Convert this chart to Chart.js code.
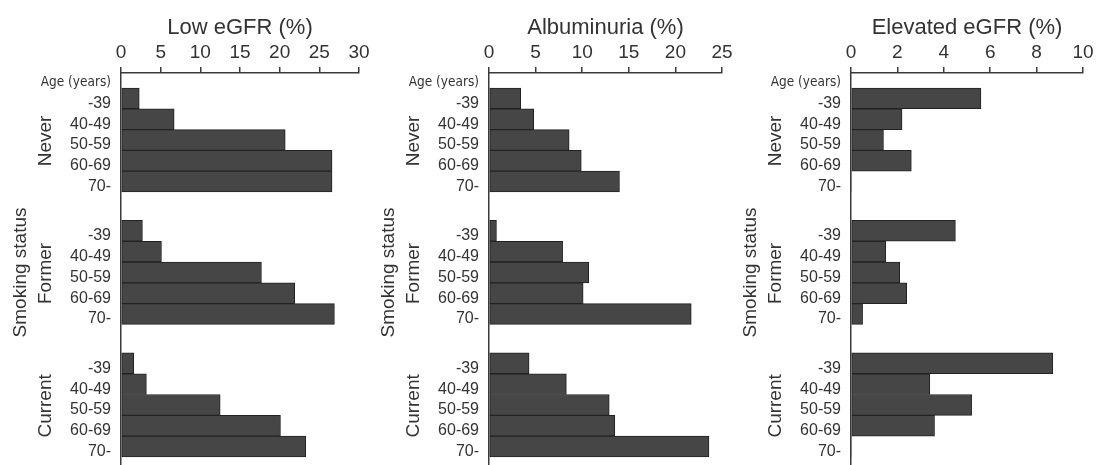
<!DOCTYPE html>
<html><head><meta charset="utf-8">
<script src="https://cdn.jsdelivr.net/npm/chart.js@4"></script>
<style>
html,body{margin:0;padding:0;background:#fff;}
#wrap{position:relative;width:1096px;height:465px;overflow:hidden;background:#fff;}
canvas{position:absolute;top:0;}
</style></head><body>
<div id="wrap">
<canvas id="c1" width="380" height="465" style="left:0px"></canvas>
<canvas id="c2" width="370" height="465" style="left:370px"></canvas>
<canvas id="c3" width="356" height="465" style="left:740px"></canvas>
</div>
<script>
// ---- data ----
const AGES = ['-39', '40-49', '50-59', '60-69', '70-'];
const GROUPS = ['Never', 'Former', 'Current'];
const AGE_HEADER = 'Age (years)';
const GROUP_TITLE = 'Smoking status';

const lowEGFR_never   = [2.3, 6.7, 20.7, 26.6, 26.6];
const lowEGFR_former  = [2.7, 5.1, 17.7, 21.9, 26.9];
const lowEGFR_current = [1.6, 3.2, 12.5, 20.1, 23.3];

const alb_never   = [3.4, 4.8, 8.6, 9.9, 14.0];
const alb_former  = [0.8, 7.9, 10.7, 10.1, 21.7];
const alb_current = [4.3, 8.3, 12.9, 13.5, 23.6];

const elev_never   = [5.6, 2.2, 1.4, 2.6, 0];
const elev_former  = [4.5, 1.5, 2.1, 2.4, 0.5];
const elev_current = [8.7, 3.4, 5.2, 3.6, 0];

const TITLES = ['Low eGFR (%)', 'Albuminuria (%)', 'Elevated eGFR (%)'];
const X_MAX = [30, 25, 10];
const X_STEP = [5, 5, 2];

// ---- style / layout ----
const FONT = "'Liberation Sans', Arial, Helvetica, sans-serif";
const NARROW = "'Liberation Sans Narrow', 'Arial Narrow', 'DejaVu Sans Condensed', sans-serif";
const TEXT = '#333';
const AXIS = '#3a3a3a';
const BAR_FILL = '#464646';
const BAR_EDGE = '#222';
const GROUP_STEP = 6.37;     // rows between group starts (5 bars + gap)
const Y_MIN = -1.22, Y_MAX = 17.63;
const LAYOUT = [
  {id: 'c1', axisLeft: 121, padRight: 21},
  {id: 'c2', axisLeft: 119, padRight: 18},
  {id: 'c3', axisLeft: 111, padRight: 13}
];
const SERIES = [
  [lowEGFR_never, lowEGFR_former, lowEGFR_current],
  [alb_never, alb_former, alb_current],
  [elev_never, elev_former, elev_current]
];

const tickPos = [-1];
const tickLab = [AGE_HEADER];
GROUPS.forEach((g, gi) => AGES.forEach((a, ai) => { tickPos.push(gi * GROUP_STEP + ai); tickLab.push(a); }));

const groupLabels = {
  id: 'groupLabels',
  afterDraw(chart) {
    const {ctx, chartArea, scales} = chart;
    const y = scales.y;
    ctx.save();
    ctx.fillStyle = TEXT;
    ctx.textAlign = 'center';
    ctx.textBaseline = 'middle';
    ctx.font = '19px ' + FONT;
    GROUPS.forEach((g, gi) => {
      const yc = y.getPixelForValue(gi * GROUP_STEP + (AGES.length - 1) / 2);
      ctx.save();
      ctx.translate(chartArea.left - 75, yc + 1);
      ctx.rotate(-Math.PI / 2);
      ctx.fillText(g, 0, 0);
      ctx.restore();
    });
    const ym = y.getPixelForValue(GROUP_STEP + (AGES.length - 1) / 2);
    ctx.translate(chartArea.left - 100, ym);
    ctx.rotate(-Math.PI / 2);
    ctx.fillText(GROUP_TITLE, 0, 0);
    ctx.restore();
  }
};

SERIES.forEach((groups, p) => {
  const data = [];
  groups.forEach((arr, gi) => arr.forEach((v, ai) => data.push({x: v, y: gi * GROUP_STEP + ai})));
  const L = LAYOUT[p];
  new Chart(document.getElementById(L.id), {
    type: 'bar',
    data: {
      datasets: [{
        data: data,
        backgroundColor: BAR_FILL,
        borderColor: BAR_EDGE,
        borderWidth: ctx => (ctx.raw && ctx.raw.x > 0 ? 1 : 0),
        borderSkipped: false,
        barPercentage: 1,
        categoryPercentage: 1
      }]
    },
    options: {
      indexAxis: 'y',
      responsive: false,
      animation: false,
      events: [],
      layout: {padding: {left: 0, right: L.padRight, top: 0, bottom: 0}},
      plugins: {legend: {display: false}, tooltip: {enabled: false}},
      scales: {
        x: {
          type: 'linear',
          position: 'top',
          min: 0, max: X_MAX[p],
          ticks: {stepSize: X_STEP[p], color: TEXT, font: {family: FONT, size: 19}, padding: 3, maxRotation: 0},
          grid: {display: true, drawOnChartArea: false, drawTicks: true, tickLength: 6, color: AXIS, lineWidth: 1.5},
          border: {display: true, color: AXIS, width: 1.5},
          title: {display: true, text: TITLES[p], color: TEXT, font: {family: FONT, size: 22}, padding: {top: 15, bottom: 0}},
          afterFit(s) { s.height = 73; s.paddingLeft = 0; s.paddingRight = 0; }
        },
        y: {
          type: 'linear',
          reverse: true,
          offset: false,
          min: Y_MIN, max: Y_MAX,
          afterBuildTicks(s) { s.ticks = tickPos.map(v => ({value: v})); },
          ticks: {
            autoSkip: false,
            callback: (v, i) => tickLab[i],
            color: TEXT,
            padding: 10,
            labelOffset: 5,
            font: c => (c.index === 0 ? {family: NARROW, size: 13.5} : {family: FONT, size: 16})
          },
          grid: {display: false, drawTicks: false, offset: false},
          border: {display: true, color: AXIS, width: 1.5},
          afterFit(s) { s.width = L.axisLeft; s.paddingTop = 0; s.paddingBottom = 0; }
        }
      }
    },
    plugins: [groupLabels]
  });
});
</script>
</body></html>
